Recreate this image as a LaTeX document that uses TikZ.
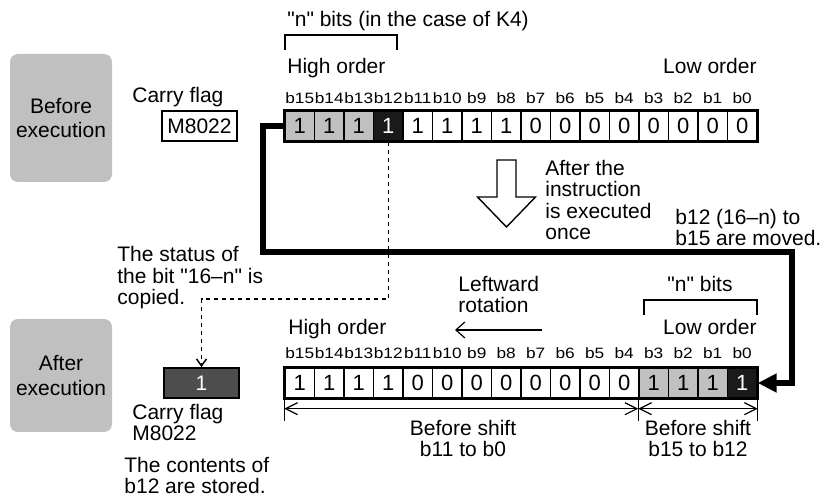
\documentclass[tikz,border=0pt]{standalone}
\usepackage{fontspec}
\setmainfont{Liberation Sans}
\newfontfamily\bitfont[FakeStretch=1.15]{Liberation Sans}
\usetikzlibrary{arrows.meta}
\definecolor{boxgray}{HTML}{C0C0C0}
\definecolor{cellgray}{HTML}{C0C0C0}
\definecolor{celldark}{HTML}{1A1A1A}
\definecolor{flagdark}{HTML}{4D4D4D}
\newcommand\dq{\textquotedbl}
\tikzset{
  txt/.style={font=\fontsize{10.5}{10.75}\selectfont, inner sep=0pt, align=left},
  state/.style={fill=boxgray, rounded corners=4pt, minimum width=51pt, inner sep=0pt,
    align=center, font=\fontsize{10.5}{12.3}\selectfont},
  bitw/.style={draw, line width=0.7pt, minimum width=14.75pt, minimum height=15pt,
    inner sep=0pt, font=\fontsize{11}{11}\selectfont},
  bitg/.style={bitw, fill=cellgray},
  bitd/.style={bitw, fill=celldark, text=white},
  bitlabel/.style={inner sep=0pt, font=\bitfont\fontsize{7.5}{7.5}\selectfont},
  flag/.style={draw, line width=0.8pt, minimum width=37.5pt, minimum height=15pt,
    inner sep=0pt, font=\fontsize{10.5}{10.5}\selectfont},
  rotline/.style={line width=2.7pt, -{Triangle[length=9.5pt,width=9pt]}},
  copyline/.style={line width=0.75pt, dash pattern=on 2pt off 2pt,
    -{Straight Barb[length=3.5pt,width=5pt]}},
  dim/.style={line width=0.6pt,
    {Straight Barb[length=6pt,width=6pt]}-{Straight Barb[length=6pt,width=6pt]}},
}
\begin{document}
\begin{tikzpicture}[x=0.5pt,y=-0.5pt]
\useasboundingbox (0,0) rectangle (821,497);

%before execution
\node[state, minimum height=64pt] (before) at (61,118) {Before\\execution};
\node[txt, anchor=base west] (cflag1) at (132,103) {Carry flag};
\node[flag] (cf1) at (199.5,126) {M8022};
\node[txt, anchor=base west] (nbits1) at (287,27) {\dq n\dq{} bits (in the case of K4)};
\draw[line width=0.75pt] (285,50) |- (397,35) -- (397,50);
\node[txt, anchor=base west] (hi1) at (287,74) {High order};
\node[txt, anchor=base east] (lo1) at (757,74) {Low order};
\foreach \v/\s [count=\i from 0] in {1/bitg,1/bitg,1/bitg,1/bitd,1/bitw,1/bitw,1/bitw,1/bitw,
    0/bitw,0/bitw,0/bitw,0/bitw,0/bitw,0/bitw,0/bitw,0/bitw} {
  \pgfmathtruncatemacro\b{15-\i}
  \node[\s] (pre\i) at ({299.75+29.5*\i},126) {\v};
  \node[bitlabel] (lpre\i) at ({299.75+29.5*\i},98) {b\b};
}
\draw[line width=1pt] (pre0.north west) rectangle (pre15.south east);

%instruction arrow
\draw[line width=0.7pt] (497,160) -- (516,160) -- (516,197) -- (535.5,197) -- (506.5,227)
  -- (477.5,197) -- (497,197) -- cycle;
\node[txt, anchor=base west] (instr) at (545,240) {After the\\instruction\\is executed\\once};
\node[txt, anchor=base west] (moved) at (675,246) {b12 (16--n) to\\b15 are moved.};
\node[txt, anchor=base west] (status) at (117,305) {The status of\\the bit \dq 16--n\dq{} is\\copied.};
\node[txt, anchor=base west] (leftrot) at (458,313) {Leftward\\rotation};
\coordinate (la1) at (542,330);
\coordinate (la2) at (455,330);
\draw[line width=0.6pt, -{Straight Barb[length=4.5pt,width=8pt]}] (la1) -- (la2);

%after execution
\node[state, minimum height=56.5pt] (after) at (61,375.5) {After\\execution};
\node[txt, anchor=base] (nbits2) at (700,292) {\dq n\dq{} bits};
\draw[line width=0.75pt] (644,315) |- (757,300) -- (757,315);
\node[txt, anchor=base west] (hi2) at (288,335) {High order};
\node[txt, anchor=base east] (lo2) at (757,335) {Low order};
\foreach \v/\s [count=\i from 0] in {1/bitw,1/bitw,1/bitw,1/bitw,0/bitw,0/bitw,0/bitw,0/bitw,
    0/bitw,0/bitw,0/bitw,0/bitw,1/bitg,1/bitg,1/bitg,1/bitd} {
  \pgfmathtruncatemacro\b{15-\i}
  \node[\s] (post\i) at ({299.75+29.5*\i},383) {\v};
  \node[bitlabel] (lpost\i) at ({299.75+29.5*\i},353) {b\b};
}
\draw[line width=1pt] (post0.north west) rectangle (post15.south east);
\node[flag, fill=flagdark, text=white] (cf2) at (201.5,383) {1};
\node[txt, anchor=base west] (cflag2) at (132,441) {Carry flag\\M8022};
\node[txt, anchor=base west] (stored) at (124,494) {The contents of\\b12 are stored.};

%rotation and copy lines
\coordinate (r1) at (263,252);
\coordinate (r2) at (792,252);
\draw[rotline] (pre0.west) -| (r1) -- (r2) |- (post15.east);
\coordinate (d1) at (201.5,299);
\draw[copyline] (pre3.south) |- (d1) -- (cf2.north);

%shift ranges
\draw[line width=0.6pt] (post0.south west) -- ++(0,22);
\draw[line width=0.6pt] (post12.south west) -- ++(0,22);
\draw[line width=0.6pt] (post15.south east) -- ++(0,22);
\draw[dim] ([yshift=-5pt]post0.south west) -- ([yshift=-5pt]post12.south west);
\draw[dim] ([yshift=-5pt]post12.south west) -- ([yshift=-5pt]post15.south east);
\node[txt, anchor=base, align=center] (bs1) at (463,457) {Before shift\\b11 to b0};
\node[txt, anchor=base, align=center] (bs2) at (698,457) {Before shift\\b15 to b12};
\end{tikzpicture}
\end{document}
